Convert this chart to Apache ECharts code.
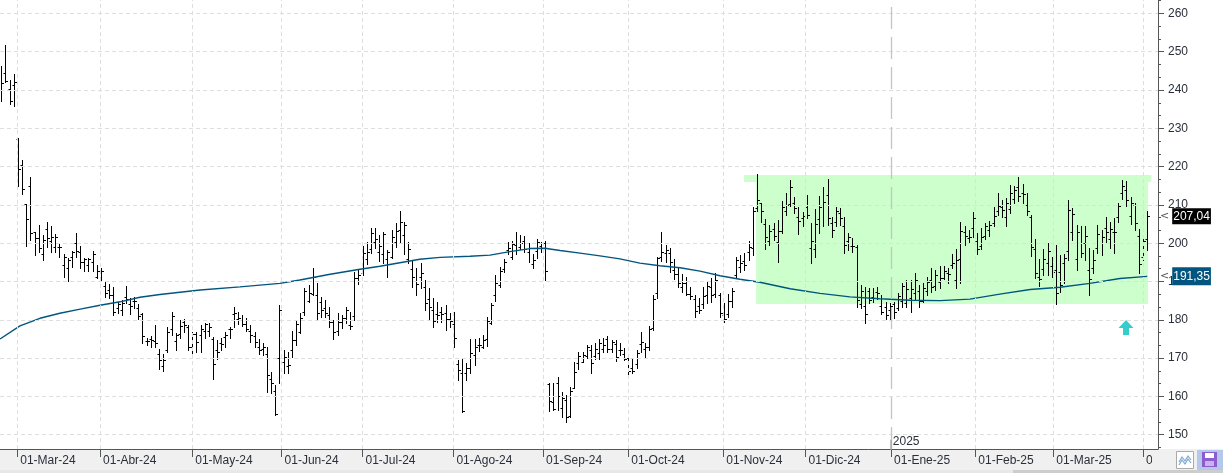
<!DOCTYPE html>
<html>
<head>
<meta charset="utf-8">
<script src="https://cdn.jsdelivr.net/npm/echarts@6/dist/echarts.min.js"></script>
<style>
html, body { margin: 0; padding: 0; background: #fff; }
#chart { width: 1223px; height: 473px; }
</style>
</head>
<body>
<div id="chart"></div>
<script>
// daily bars (index 0 = first bar at the left edge)
var opens = [
  240.0,244.4,240.2,241.3,227.2,220.4,210.3,214.9,202.9,201.3,
  197.2,203.6,200.7,199.1,199.0,194.3,193.5,196.5,200.0,197.8,
  195.2,194.3,195.2,191.3,192.8,188.8,187.8,186.5,183.0,182.5,
  186.0,184.2,184.8,183.0,181.5,174.5,174.9,174.5,171.0,168.0,
  172.0,177.7,174.4,176.3,179.5,178.0,172.8,176.3,176.0,177.0,
  177.0,175.0,172.0,174.0,175.5,177.5,181.5,180.1,180.0,179.0,
  177.0,175.7,173.0,172.3,171.0,164.5,161.5,170.0,169.0,168.0,
  172.0,174.6,176.7,182.0,184.8,186.8,186.6,184.6,183.2,181.2,
  179.4,177.0,179.5,180.6,178.6,181.1,190.8,192.3,196.0,198.5,
  200.3,197.8,197.3,196.0,196.5,200.3,203.5,202.1,196.0,193.2,
  190.1,191.3,188.6,185.5,182.5,181.6,182.0,181.7,180.1,179.0,
  168.5,166.2,166.0,167.4,170.8,173.4,172.9,175.0,179.1,186.4,
  189.2,193.3,198.3,196.3,199.5,199.1,200.6,197.7,194.5,197.9,
  199.2,200.1,163.3,158.5,163.5,157.1,159.0,155.0,162.3,168.8,
  169.1,170.5,172.1,170.6,171.4,172.5,174.9,172.3,173.8,172.2,
  171.2,169.9,167.3,168.5,173.8,172.3,173.0,177.8,187.0,196.5,
  197.5,197.5,193.1,192.0,188.5,189.6,186.8,185.4,183.5,184.0,
  186.4,188.6,186.8,186.4,181.3,181.5,185.0,191.7,193.9,195.3,
  197.7,198.8,209.2,210.5,205.1,200.7,203.8,200.4,203.1,208.3,
  210.3,210.6,206.9,206.5,209.5,198.7,198.4,206.2,210.0,212.6,
  205.3,205.5,208.0,204.4,200.5,199.4,199.0,184.0,183.5,187.5,
  185.9,187.3,183.5,183.3,182.6,184.2,183.2,185.0,184.3,185.8,
  187.0,187.5,184.8,187.5,190.3,188.8,189.8,191.0,192.3,194.3,
  190.3,196.0,203.0,201.3,204.0,200.6,199.4,202.0,203.4,205.3,
  208.5,209.5,206.8,209.0,211.6,214.6,213.0,210.0,206.9,198.4,
  191.3,193.3,194.8,194.0,193.0,192.5,194.8,198.0,203.0,195.8,
  200.0,200.0,193.0,193.4,198.8,200.0,204.0,201.2,203.0,206.8,
  213.0,214.0,207.0,209.9,202.0,196.4,201.2
];
var highs = [
  246.3,251.7,242.6,244.2,227.4,221.7,210.3,217.4,203.0,204.7,
  202.1,205.5,204.5,202.4,200.0,197.2,196.1,198.0,202.7,199.3,
  196.1,196.1,198.0,194.3,193.4,190.0,189.3,188.6,184.7,185.2,
  188.8,185.6,185.9,184.0,181.9,175.2,175.8,178.6,172.3,171.1,
  178.2,182.1,176.6,180.0,180.1,178.6,176.9,176.9,178.6,179.1,
  179.1,175.6,174.7,175.2,176.9,178.2,183.3,182.1,181.2,180.4,
  178.6,176.9,174.9,174.0,173.0,166.5,163.0,183.9,172.1,171.7,
  177.1,180.0,181.9,188.2,189.1,193.4,189.6,186.0,185.2,183.4,
  180.0,181.7,181.2,183.4,182.1,192.4,193.0,199.3,200.4,203.9,
  203.9,202.1,203.0,198.2,203.5,205.2,208.3,205.6,200.2,195.6,
  193.4,194.9,190.4,188.2,185.6,184.7,183.4,183.9,181.7,182.1,
  169.5,169.8,168.6,174.9,174.9,175.2,176.0,180.7,184.3,191.7,
  193.7,195.8,200.2,200.7,203.0,202.1,201.9,200.0,197.2,201.0,
  200.4,200.7,163.5,163.5,165.0,161.2,160.4,162.5,168.9,171.7,
  171.7,173.4,173.4,173.9,174.9,175.2,175.8,174.6,174.7,173.9,
  172.6,170.4,170.0,172.1,176.9,173.9,178.5,186.5,196.3,203.0,
  199.5,198.7,195.8,193.9,192.0,191.1,188.5,186.5,185.6,188.6,
  190.0,190.8,192.1,186.9,184.3,186.7,188.2,196.5,196.9,197.4,
  200.7,209.5,218.1,210.6,206.3,204.7,205.2,206.1,210.9,213.0,
  216.5,212.0,209.5,208.2,212.6,205.2,208.9,212.4,214.8,216.8,
  206.9,209.5,209.1,206.8,202.6,201.3,199.5,189.1,188.6,188.2,
  188.2,188.6,186.5,184.7,184.4,184.7,186.9,189.5,190.4,190.4,
  192.1,189.1,189.5,191.3,193.4,193.0,194.0,194.0,193.4,197.2,
  198.4,205.6,204.4,203.5,208.2,202.7,203.9,205.4,205.9,209.5,
  213.0,211.3,211.7,215.2,214.9,217.4,215.5,213.2,207.4,201.0,
  195.8,198.4,200.0,196.5,199.5,196.9,197.2,211.3,209.1,204.7,
  204.4,204.4,198.7,198.2,204.7,203.5,206.9,205.6,206.5,210.4,
  216.5,216.3,212.0,210.4,203.7,201.9,208.5
];
var lows = [
  237.0,242.2,236.3,235.8,215.0,212.8,199.4,200.8,196.9,197.8,
  195.6,199.1,197.6,197.6,196.5,191.2,190.2,193.7,196.5,193.4,
  192.8,192.8,192.8,190.8,190.2,185.9,185.6,181.2,181.7,181.2,
  184.3,181.4,183.0,180.1,173.9,173.4,172.8,172.8,167.2,166.7,
  171.5,176.0,172.1,175.2,176.9,172.1,171.0,171.5,171.5,175.2,
  175.8,164.5,169.7,172.1,172.8,175.2,178.2,178.9,178.4,177.2,
  174.3,172.8,171.1,170.8,161.2,160.8,155.1,163.5,166.2,166.2,
  170.4,173.4,176.6,181.2,184.7,186.4,180.0,180.8,180.8,178.2,
  174.9,176.0,177.8,179.1,177.5,180.0,189.4,191.7,194.6,197.4,
  198.7,195.4,194.8,191.3,196.1,199.1,200.0,197.2,194.9,188.5,
  186.4,188.2,182.6,180.0,178.2,179.5,179.5,177.3,178.2,173.0,
  164.3,156.0,164.3,166.0,168.2,171.9,172.6,173.2,178.9,185.0,
  188.5,192.6,197.2,195.8,197.2,198.4,197.8,195.2,193.4,196.1,
  197.8,190.4,156.1,156.5,156.5,154.7,153.4,154.7,162.1,167.1,
  168.9,170.0,166.2,169.7,169.7,171.5,171.5,171.5,169.3,170.8,
  169.5,165.3,166.0,167.3,171.7,170.0,172.1,177.3,185.6,195.4,
  195.2,192.6,190.6,188.6,187.3,186.5,185.4,180.8,181.7,183.0,
  184.3,184.7,186.0,180.7,179.5,180.8,183.4,190.8,192.6,193.0,
  195.6,196.9,208.5,205.6,198.4,199.5,200.8,195.2,202.7,207.4,
  209.7,207.8,202.4,204.5,206.5,194.8,196.5,202.6,204.4,204.8,
  201.6,204.4,204.7,197.5,198.2,197.8,183.4,183.0,179.1,184.3,
  184.7,185.4,181.5,180.1,180.0,180.4,182.6,183.4,183.4,182.1,
  185.2,183.4,184.7,186.5,187.3,187.8,188.2,190.6,189.5,193.4,
  188.2,189.5,199.5,200.2,201.7,197.2,198.4,201.0,201.9,204.4,
  207.4,206.9,204.5,207.8,210.4,210.9,210.4,207.4,196.7,190.8,
  188.8,191.7,191.7,191.3,184.1,187.3,189.7,195.6,200.8,193.0,
  196.5,195.6,186.5,192.1,197.4,196.9,200.4,198.7,197.4,205.6,
  211.5,209.7,205.0,203.4,192.1,195.6,198.2
];
var closes = [
  241.7,242.4,237.2,242.0,219.3,214.1,206.3,202.7,201.4,198.7,
  200.8,201.3,201.6,201.6,199.0,196.5,195.5,197.8,198.0,195.2,
  195.8,195.8,197.2,192.8,192.8,186.9,186.5,182.0,184.0,184.3,
  185.5,183.5,185.0,181.0,175.7,174.5,174.8,174.0,169.5,169.5,
  176.8,181.0,176.0,178.5,178.7,173.0,176.2,174.3,177.5,178.8,
  178.0,168.5,171.5,173.6,176.0,177.7,181.8,180.5,178.8,177.5,
  176.0,174.2,172.2,173.0,165.6,163.5,155.3,182.5,170.3,168.3,
  174.8,178.9,180.6,187.5,187.1,191.2,181.8,182.5,181.7,179.4,
  176.7,179.5,180.6,182.5,178.3,190.8,191.8,197.5,197.7,202.7,
  201.0,199.3,202.3,197.8,201.7,203.2,205.5,204.8,198.5,191.1,
  189.4,192.3,184.3,183.3,179.6,181.3,181.5,180.2,179.7,175.2,
  166.8,156.3,167.3,171.3,172.8,173.5,174.7,179.6,183.8,189.5,
  192.7,195.0,198.8,199.7,198.3,200.1,198.6,198.7,195.6,200.4,
  200.1,192.8,158.9,156.8,160.2,159.5,154.5,161.5,166.3,170.5,
  170.8,173.0,168.8,172.5,173.9,173.5,172.4,174.3,170.4,172.0,
  169.8,166.7,166.7,171.3,174.3,173.0,177.5,185.5,196.1,197.7,
  198.3,195.0,191.9,189.5,189.7,186.8,186.2,182.3,182.5,186.3,
  188.9,186.6,190.5,181.8,180.1,185.0,187.5,195.6,194.8,194.4,
  199.0,208.3,211.3,208.3,201.7,203.3,201.9,203.3,209.4,209.9,
  214.8,209.2,205.7,207.2,207.4,200.5,205.1,209.5,210.8,206.5,
  203.4,208.4,206.6,199.6,201.7,199.2,185.3,187.4,181.5,185.3,
  185.7,186.9,182.1,181.3,183.6,182.0,186.3,188.7,188.0,188.0,
  190.5,185.0,188.4,189.8,188.5,191.8,190.9,192.8,192.0,194.9,
  195.6,203.3,202.0,201.7,206.5,198.5,201.7,204.4,204.7,207.0,
  209.7,208.7,210.6,213.0,213.8,212.4,212.9,208.3,199.0,192.1,
  190.6,196.0,197.9,192.4,187.0,189.0,196.1,208.6,207.7,203.0,
  197.4,201.8,190.7,195.7,202.3,201.7,202.9,203.7,203.0,209.8,
  215.0,211.3,210.5,205.2,194.5,200.7,207.04
];

// moving average, sampled along the line (bar index, value)
var maIdx = [-0.3, 4.5, 9.3, 14.1, 19.0, 23.8, 28.6, 33.4, 38.2, 47.9, 57.5, 67.1, 71.9, 79.2,
  86.4, 91.2, 96.0, 100.8, 105.7, 112.9, 117.7, 122.5, 127.3, 130.9, 134.6, 139.4, 144.2,
  149.0, 153.8, 158.6, 163.5, 168.3, 173.1, 177.9, 182.7, 190.0, 197.2, 204.4, 211.6,
  218.9, 226.1, 233.3, 240.5, 247.8, 255.0, 262.2, 269.4, 276];
var maVal = [175.0, 178.4, 180.4, 181.7, 182.8, 183.8, 184.7, 185.9, 186.6, 187.8, 188.6, 189.5, 190.4, 191.9,
  193.2, 194.0, 194.9, 195.8, 196.3, 196.6, 196.9, 197.8, 198.6, 198.7, 198.1, 197.4, 196.7,
  195.9, 194.8, 194.1, 193.6, 192.7, 191.5, 190.6, 189.8, 188.1, 186.9, 186.0, 185.5,
  185.1, 185.0, 185.4, 186.7, 187.9, 188.5, 189.5, 190.8, 191.35];

// month ticks (position on the bar index scale) and their labels
var monthPos = [3.85, 23.8, 46.0, 67.5, 87.0, 108.9, 130.5, 151.0, 173.9, 193.7, 214.3, 234.6, 253.4, 275.0];
var monthLabels = ['01-Mar-24', '01-Abr-24', '01-May-24', '01-Jun-24', '01-Jul-24', '01-Ago-24', '01-Sep-24',
  '01-Oct-24', '01-Nov-24', '01-Dic-24', '01-Ene-25', '01-Feb-25', '01-Mar-25', '01-Abr-25'];
var yearIdx = 10;
var yearLabel = '2025';

var yTicks = [150, 160, 170, 180, 190, 200, 210, 220, 230, 240, 250, 260];

var lastClose = 207.04;
var lastMa = 191.35;

// green range box
var zoneTop = 217.8, zoneBottom = 184.1, zoneStart = 181.8, zoneEnd = 276.2;
var zoneLipStart = 178.9, zoneLipEnd = 277.0, zoneLipBottom = 216.0;
var arrowAt = [270.9, 178.0];

var X_MIN = -0.31, X_MAX = 278.6;
var Y_MIN = 146.27, Y_MAX = 263.5;
var FONT = 'Liberation Sans';
var MA_COLOR = '#02557f';

var ohlc = opens.map(function (o, i) { return [i, o, highs[i], lows[i], closes[i]]; });
var maData = maIdx.map(function (x, k) { return [x, maVal[k]]; });
var minorTicks = [];
yTicks.forEach(function (v) { minorTicks.push(v - 10 / 3, v - 20 / 3); });
minorTicks.push(263.33);

function crisp(v) { return Math.round(v) + 0.5; }

function renderBar(params, api) {
  var i = api.value(0);
  var x = crisp(api.coord([i, 0])[0]);
  var yO = crisp(api.coord([i, api.value(1)])[1]);
  var yH = api.coord([i, api.value(2)])[1];
  var yL = api.coord([i, api.value(3)])[1];
  var yC = crisp(api.coord([i, api.value(4)])[1]);
  var st = { stroke: '#000', lineWidth: 1 };
  return {
    type: 'group',
    children: [
      { type: 'line', shape: { x1: x, y1: Math.round(yH), x2: x, y2: Math.round(yL) + 1 }, style: st },
      { type: 'line', shape: { x1: x - 2, y1: yO, x2: x, y2: yO }, style: st },
      { type: 'line', shape: { x1: x, y1: yC, x2: x + 2.5, y2: yC }, style: st }
    ]
  };
}

function monthLabel(v) {
  var best = 0;
  for (var k = 1; k < monthPos.length; k++) {
    if (Math.abs(monthPos[k] - v) < Math.abs(monthPos[best] - v)) best = k;
  }
  return monthLabels[best];
}

// price tag on the right axis: small arrow + coloured box
function priceTag(text, bg, pad) {
  return {
    show: true, position: 'end', distance: 1,
    formatter: '{a|<}{b|' + text + '}',
    rich: {
      a: { color: '#555', fontSize: 11, padding: [0, 3, 0, 1], fontFamily: 'DejaVu Sans' },
      b: { backgroundColor: bg, color: '#fff', fontSize: 12, padding: pad, fontFamily: FONT }
    }
  };
}

var gridDash = { color: '#dedede', width: 1, type: [4, 3] };
var hidden = { color: 'rgba(0,0,0,0)', width: 0 };

var chart = echarts.init(document.getElementById('chart'));
chart.setOption({
  animation: false,
  backgroundColor: '#fff',
  textStyle: { fontFamily: FONT },
  grid: { left: 0, right: 65, top: 0, bottom: 24 },
  xAxis: {
    type: 'value',
    min: X_MIN,
    max: X_MAX,
    axisLine: { show: true, onZero: false, lineStyle: { color: '#555' } },
    axisTick: { show: true, customValues: monthPos, length: 8, lineStyle: { color: '#555' } },
    axisLabel: {
      customValues: monthPos,
      formatter: monthLabel,
      align: 'left',
      margin: 6,
      padding: [0, 0, 0, 3],
      color: '#2a2f3a',
      fontSize: 12,
      fontFamily: FONT
    },
    splitLine: { show: false }
  },
  yAxis: [
    {
      type: 'value',
      position: 'right',
      min: Y_MIN,
      max: Y_MAX,
      axisLine: { show: true, onZero: false, lineStyle: { color: '#555' } },
      axisTick: { show: true, customValues: yTicks, length: 6, lineStyle: { color: '#555' } },
      axisLabel: { customValues: yTicks, margin: 10, color: '#2a2f3a', fontSize: 12, fontFamily: FONT },
      splitLine: { show: false }
    },
    {
      type: 'value',
      position: 'right',
      min: Y_MIN,
      max: Y_MAX,
      axisLine: { show: false, onZero: false },
      axisTick: { show: true, customValues: minorTicks, length: 3, lineStyle: { color: '#555' } },
      axisLabel: { show: false },
      splitLine: { show: false }
    }
  ],
  series: [
    {
      name: 'zone',
      type: 'line',
      data: [],
      z: 1,
      silent: true,
      markArea: {
        silent: true,
        itemStyle: { color: 'rgb(204,255,204)' },
        data: [
          [{ coord: [zoneStart, zoneTop] }, { coord: [zoneEnd, zoneBottom] }],
          [{ coord: [zoneLipStart, zoneTop] }, { coord: [zoneLipEnd, zoneLipBottom] }]
        ]
      }
    },
    {
      name: 'grid',
      type: 'line',
      data: [],
      z: 2,
      silent: true,
      markLine: {
        silent: true,
        symbol: 'none',
        label: { show: false },
        lineStyle: gridDash,
        data: yTicks.map(function (v) { return { yAxis: v }; })
          .concat(monthPos.filter(function (p, k) { return k !== yearIdx; })
            .map(function (p) { return { xAxis: p }; }))
          .concat([{ xAxis: monthPos[yearIdx], lineStyle: { color: '#c4c4c4', width: 1.3, type: [22, 8] } }])
      },
      markPoint: {
        silent: true,
        data: [{
          coord: [monthPos[yearIdx], 147.4],
          symbol: 'rect',
          symbolSize: [1.5, 10],
          itemStyle: { color: '#aaa' },
          label: {
            show: true, position: 'right', distance: 1, offset: [0, -3],
            formatter: yearLabel, color: '#2a2f3a', fontSize: 12, fontFamily: FONT
          }
        }]
      }
    },
    {
      name: 'bars',
      type: 'custom',
      z: 3,
      renderItem: renderBar,
      encode: { x: 0, y: [1, 2, 3, 4] },
      data: ohlc
    },
    {
      name: 'ma',
      type: 'line',
      z: 4,
      data: maData,
      showSymbol: false,
      lineStyle: { color: MA_COLOR, width: 1.4 },
      markLine: {
        silent: true,
        symbol: 'none',
        lineStyle: hidden,
        data: [
          { yAxis: lastClose, lineStyle: hidden, label: priceTag('207,04', '#000', [2, 1, 2, 1]) },
          { yAxis: lastMa, lineStyle: hidden, label: priceTag('191,35', MA_COLOR, [3, 1, 3, 1]) }
        ]
      },
      markPoint: {
        silent: true,
        data: [{
          coord: arrowAt,
          symbol: 'path://M7.5,0 L15,8 L10.5,8 L10.5,15 L4.5,15 L4.5,8 L0,8 Z',
          symbolSize: [15, 15],
          itemStyle: { color: '#35cccc' },
          label: { show: false }
        }]
      }
    }
  ],
  graphic: [
    { type: 'rect', z: -10, shape: { x: 0, y: 449, width: 1223, height: 21 }, style: { fill: '#f0f0f0' } },
    { type: 'rect', z: 100, shape: { x: 1152, y: 450, width: 71, height: 20 }, style: { fill: '#f0f0f0' } },
    { type: 'rect', z: 100, shape: { x: 0, y: 470, width: 1013, height: 3 }, style: { fill: '#e8e8e8' } },
    { type: 'rect', z: 100, shape: { x: 1013, y: 470, width: 210, height: 3 }, style: { fill: '#cdcdcd' } },
    { type: 'rect', z: 101, shape: { x: 1176.5, y: 451.5, width: 17, height: 17 }, style: { fill: '#fff', stroke: '#aaa', lineWidth: 1 } },
    { type: 'polyline', z: 102, shape: { points: [[1179, 462], [1182, 457], [1185, 461], [1188, 456], [1191, 460]] }, style: { stroke: '#7aa7d6', lineWidth: 1.2, fill: null } },
    { type: 'polyline', z: 102, shape: { points: [[1179, 465], [1182, 460], [1185, 464], [1188, 459], [1191, 463]] }, style: { stroke: '#7aa7d6', lineWidth: 1.2, fill: null } },
    { type: 'rect', z: 101, shape: { x: 1197, y: 450, width: 26, height: 20 }, style: { fill: '#b3c8ea' } },
    { type: 'rect', z: 102, shape: { x: 1202, y: 452, width: 15, height: 15 }, style: { fill: '#8d5ccf' } },
    { type: 'rect', z: 103, shape: { x: 1205, y: 453, width: 9, height: 5 }, style: { fill: '#fff' } },
    { type: 'rect', z: 103, shape: { x: 1205, y: 461, width: 9, height: 5 }, style: { fill: '#c9b3ea' } }
  ]
});
</script>
</body>
</html>
